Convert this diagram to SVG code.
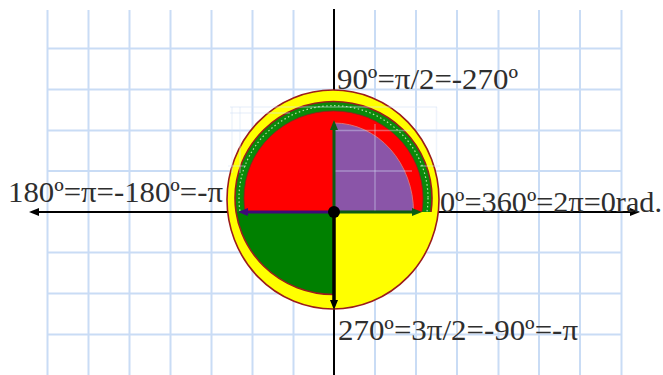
<svg xmlns="http://www.w3.org/2000/svg" width="663" height="375" viewBox="0 0 663 375">
<style>
.grid line{stroke:#c9dcf5;stroke-width:2}
.faint line{stroke:#d6e4f8;stroke-width:1.4;opacity:0.4}
.lbl{font-family:"Liberation Serif","Times New Roman",serif;font-size:30px;fill:#2e2e2e}
.rim{stroke:#9b1c1c;stroke-width:1.6}
</style>
<defs>
<marker id="ahBlack" viewBox="0 0 10 8" refX="1" refY="4" markerWidth="10" markerHeight="8" markerUnits="userSpaceOnUse" orient="auto-start-reverse">
<path d="M0,0 L10,4 L0,8 z" fill="#000"/>
</marker>
<marker id="ahGreen" viewBox="0 0 10 8" refX="1" refY="4" markerWidth="10" markerHeight="9" markerUnits="userSpaceOnUse" orient="auto">
<path d="M0,0 L10,4 L0,8 z" fill="#0d5c12"/>
</marker>
<marker id="ahIndigo" viewBox="0 0 10 8" refX="1" refY="4" markerWidth="10" markerHeight="9" markerUnits="userSpaceOnUse" orient="auto">
<path d="M0,0 L10,4 L0,8 z" fill="#3f0a78"/>
</marker>
<clipPath id="top"><rect x="200" y="60" width="260" height="152"/></clipPath>
<clipPath id="botLeft"><rect x="200" y="212" width="134" height="120"/></clipPath>
</defs>
<rect width="663" height="375" fill="#fff"/>
<g id="grid" class="grid">
<line x1="47.5" y1="10" x2="47.5" y2="375"/>
<line x1="88.5" y1="10" x2="88.5" y2="375"/>
<line x1="129.5" y1="10" x2="129.5" y2="375"/>
<line x1="170.5" y1="10" x2="170.5" y2="375"/>
<line x1="211.5" y1="10" x2="211.5" y2="375"/>
<line x1="252.5" y1="10" x2="252.5" y2="375"/>
<line x1="293.5" y1="10" x2="293.5" y2="375"/>
<line x1="375" y1="10" x2="375" y2="375"/>
<line x1="416" y1="10" x2="416" y2="375"/>
<line x1="457" y1="10" x2="457" y2="375"/>
<line x1="498.5" y1="10" x2="498.5" y2="375"/>
<line x1="539" y1="10" x2="539" y2="375"/>
<line x1="580" y1="10" x2="580" y2="375"/>
<line x1="621.5" y1="10" x2="621.5" y2="375"/>
<line x1="47.5" y1="48.5" x2="621.5" y2="48.5"/>
<line x1="47.5" y1="89.5" x2="621.5" y2="89.5"/>
<line x1="47.5" y1="130.5" x2="621.5" y2="130.5"/>
<line x1="47.5" y1="171" x2="621.5" y2="171"/>
<line x1="47.5" y1="212" x2="621.5" y2="212"/>
<line x1="47.5" y1="252.5" x2="621.5" y2="252.5"/>
<line x1="47.5" y1="293.5" x2="621.5" y2="293.5"/>
<line x1="47.5" y1="334.5" x2="621.5" y2="334.5"/>
</g>
<g id="axes">
<line x1="334" y1="9" x2="334" y2="375" stroke="#000" stroke-width="2"/>
<line x1="38" y1="212" x2="631" y2="212" stroke="#000" stroke-width="2" marker-start="url(#ahBlack)" marker-end="url(#ahBlack)"/>
</g>
<g id="unit-circle">
<ellipse cx="333" cy="199.5" rx="106" ry="109.5" fill="#ffff00" class="rim"/>
<g clip-path="url(#top)">
<ellipse cx="333.5" cy="198" rx="98.5" ry="96.5" fill="#0a8a0a" class="rim"/>
<ellipse cx="333.5" cy="198" rx="94.5" ry="92.3" fill="none" stroke="#b6e0a8" stroke-width="1.2" stroke-dasharray="1.5 2.5"/>
<ellipse cx="333.5" cy="198" rx="89.5" ry="87" fill="#ff0000" stroke="#8e1f1f" stroke-width="0.8"/>
</g>
<g clip-path="url(#botLeft)">
<ellipse cx="333.5" cy="198" rx="98.5" ry="96.5" fill="#008000" class="rim"/>
</g>
<path id="purple-quadrant" d="M334,212 L413.5,212 A79.5,89 0 0 0 334,123 Z" fill="#8a55a8" stroke="#d8707a" stroke-width="1"/>
<g class="faint">
<line x1="375" y1="124" x2="375" y2="211"/>
<line x1="335" y1="130.5" x2="410" y2="130.5"/>
<line x1="335" y1="171" x2="412" y2="171"/>
<line x1="230" y1="107" x2="437" y2="107"/>
<line x1="230" y1="113" x2="290" y2="113"/>
<line x1="232" y1="107" x2="232" y2="173"/>
<line x1="240" y1="107" x2="240" y2="173"/>
<line x1="436.5" y1="107" x2="436.5" y2="168"/>
<line x1="228" y1="166" x2="246" y2="166"/>
<line x1="420" y1="166" x2="440" y2="166"/>
</g>
</g>
<g id="connectors">
<line x1="334" y1="212" x2="334" y2="129" stroke="#0d5c12" stroke-width="3" marker-end="url(#ahGreen)"/>
<line x1="334" y1="212" x2="413" y2="212" stroke="#0d5c12" stroke-width="3" marker-end="url(#ahGreen)"/>
<line x1="334" y1="212" x2="247" y2="212" stroke="#3f0a78" stroke-width="3" marker-end="url(#ahIndigo)"/>
<line x1="334" y1="212" x2="334" y2="301" stroke="#000" stroke-width="3.5" marker-end="url(#ahBlack)"/>
<circle cx="334" cy="212" r="6" fill="#000"/>
</g>
<g id="labels">
<text class="lbl" x="337" y="89" textLength="181" lengthAdjust="spacingAndGlyphs">90º=π/2=-270º</text>
<text class="lbl" x="8" y="202" textLength="215" lengthAdjust="spacingAndGlyphs">180º=π=-180º=-π</text>
<text class="lbl" x="440" y="212" textLength="222" lengthAdjust="spacingAndGlyphs">0º=360º=2π=0rad.</text>
<text class="lbl" x="338" y="340" textLength="240" lengthAdjust="spacingAndGlyphs">270º=3π/2=-90º=-π</text>
</g>
</svg>
